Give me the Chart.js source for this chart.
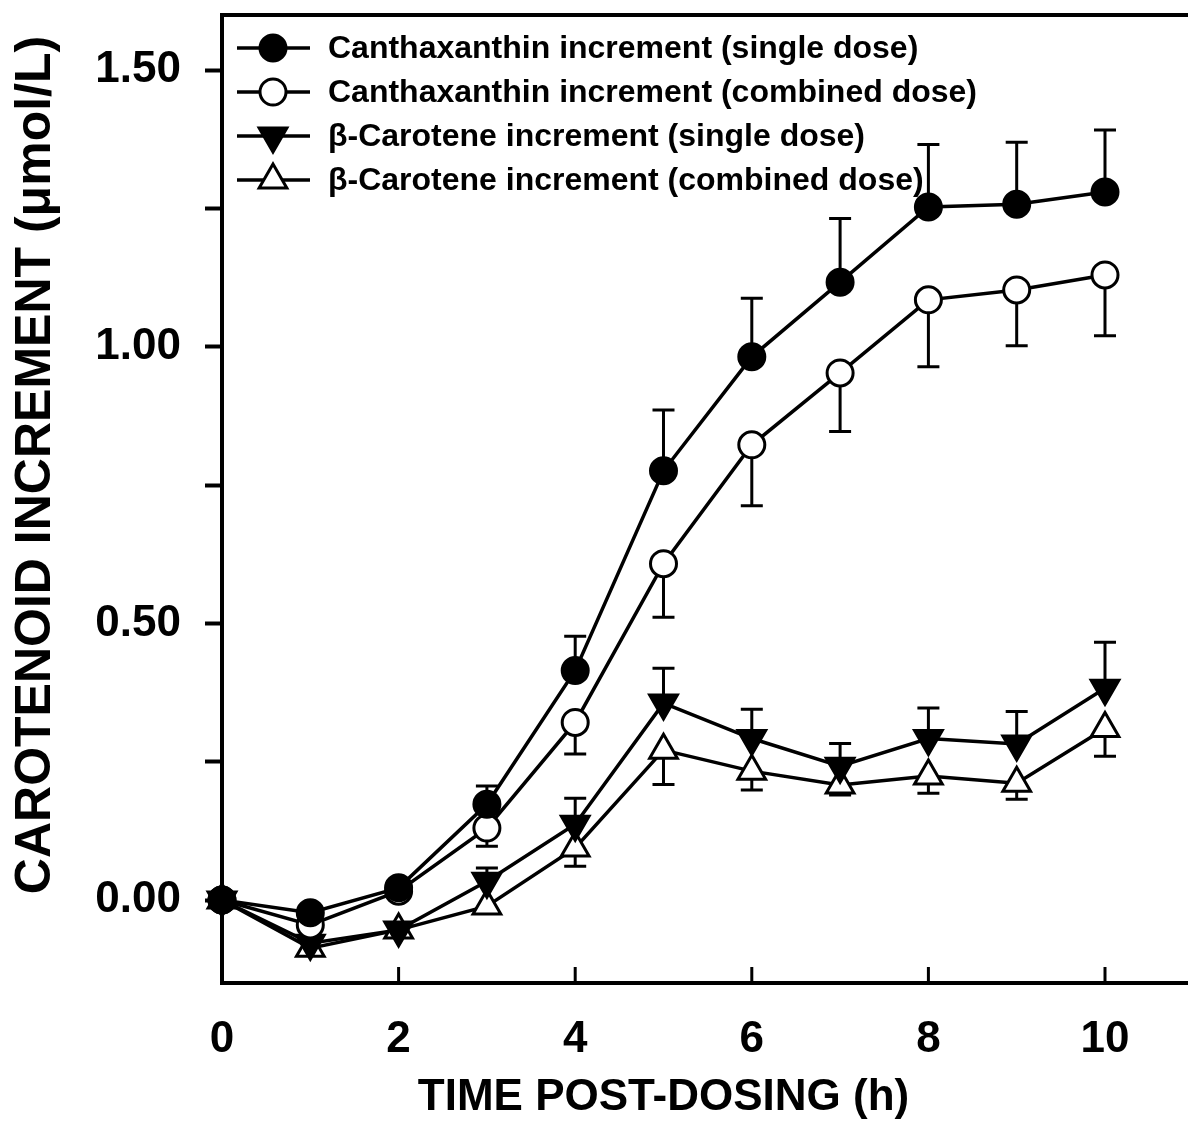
<!DOCTYPE html>
<html>
<head>
<meta charset="utf-8">
<script src="https://cdn.jsdelivr.net/npm/chart.js@4.4.1/dist/chart.umd.min.js"></script>
<style>
  html, body { margin: 0; padding: 0; background: #fff; }
  #wrap { width: 1188px; height: 1144px; }
</style>
</head>
<body>
<div id="wrap"><canvas id="chart" width="1188" height="1144"></canvas></div>
<script>
// time after dosing (h)
var hours = [0, 1, 2, 3, 4, 5, 6, 7, 8, 9, 10];

// canthaxanthin, single dose (filled circles), SE drawn upward
var canthaSingle    = [0, -0.023, 0.022, 0.173, 0.415, 0.776, 0.982, 1.117, 1.253, 1.258, 1.280];
var canthaSingleErr = [0, 0.010, 0.010, 0.033, 0.062, 0.110, 0.106, 0.115, 0.113, 0.112, 0.112];

// canthaxanthin, combined dose (open circles), SE drawn downward
var canthaComb      = [0, -0.045, 0.016, 0.130, 0.321, 0.608, 0.823, 0.953, 1.085, 1.103, 1.130];
var canthaCombErr   = [0, 0.012, 0.010, 0.033, 0.057, 0.097, 0.110, 0.106, 0.121, 0.101, 0.110];

// beta-carotene, single dose (filled down triangles), SE upward
var betaSingle      = [0, -0.078, -0.054, 0.034, 0.137, 0.356, 0.292, 0.242, 0.292, 0.282, 0.383];
var betaSingleErr   = [0, 0.010, 0.010, 0.024, 0.047, 0.063, 0.053, 0.041, 0.055, 0.059, 0.083];

// beta-carotene, combined dose (open up triangles), SE downward
var betaComb        = [0, -0.087, -0.054, -0.011, 0.094, 0.271, 0.233, 0.208, 0.224, 0.211, 0.310];
var betaCombErr     = [0, 0.010, 0.010, 0.012, 0.033, 0.062, 0.034, 0.018, 0.031, 0.029, 0.050];

var seriesNames = [
  'Canthaxanthin increment (single dose)',
  'Canthaxanthin increment (combined dose)',
  '\u03b2-Carotene increment (single dose)',
  '\u03b2-Carotene increment (combined dose)'
];

var xTickValues = [0, 2, 4, 6, 8, 10];
var yTickValues = [0, 0.25, 0.5, 0.75, 1, 1.25, 1.5];
var xTitle = 'TIME POST-DOSING (h)';
var yTitle = 'CAROTENOID INCREMENT (\u03bcmol/L)';

var FONT = '"Liberation Sans", Arial, Helvetica, sans-serif';

function toPoints(vals) {
  return hours.map(function (h, i) { return { x: h, y: vals[i] }; });
}

function series(label, vals, errs, dir, style, rot, fill, radius) {
  return {
    label: label,
    data: toPoints(vals),
    errors: errs,
    errDir: dir,
    borderColor: '#000',
    borderWidth: 3.5,
    pointStyle: style,
    rotation: rot,
    pointRadius: radius,
    pointHoverRadius: radius,
    pointBackgroundColor: fill,
    pointBorderColor: '#000',
    pointBorderWidth: 3,
    tension: 0,
    clip: false
  };
}

// vertical error bars, one side only, drawn under the markers
var errorBars = {
  id: 'errorBars',
  beforeDatasetsDraw: function (chart) {
    var ctx = chart.ctx, xs = chart.scales.x, ys = chart.scales.y;
    ctx.save();
    ctx.strokeStyle = '#000';
    ctx.lineWidth = 3;
    chart.data.datasets.forEach(function (ds) {
      ds.data.forEach(function (p, i) {
        var e = ds.errors[i];
        if (!e) return;
        var px = xs.getPixelForValue(p.x);
        var y0 = ys.getPixelForValue(p.y);
        var y1 = ys.getPixelForValue(p.y + ds.errDir * e);
        ctx.beginPath();
        ctx.moveTo(px, y0); ctx.lineTo(px, y1);
        ctx.moveTo(px - 11, y1); ctx.lineTo(px + 11, y1);
        ctx.stroke();
      });
    });
    ctx.restore();
  }
};

// frame top, inward x ticks, axis titles, legend inside the plot
var decorations = {
  id: 'decorations',
  afterDraw: function (chart) {
    var ctx = chart.ctx, a = chart.chartArea, xs = chart.scales.x;
    ctx.save();
    ctx.strokeStyle = '#000';
    ctx.fillStyle = '#000';

    ctx.lineWidth = 4;
    ctx.beginPath();
    ctx.moveTo(a.left - 2, a.top); ctx.lineTo(a.right, a.top);
    ctx.stroke();

    ctx.lineWidth = 3;
    xTickValues.forEach(function (v) {
      if (v === 0) return;
      var px = xs.getPixelForValue(v);
      ctx.beginPath();
      ctx.moveTo(px, a.bottom); ctx.lineTo(px, a.bottom - 16);
      ctx.stroke();
    });

    ctx.font = 'bold 44px ' + FONT;
    ctx.textAlign = 'center';
    ctx.textBaseline = 'middle';
    ctx.fillText(xTitle, xs.getPixelForValue(5), 1098);

    ctx.save();
    ctx.translate(36, 465);
    ctx.rotate(-Math.PI / 2);
    ctx.font = 'bold 50px ' + FONT;
    ctx.fillText(yTitle, 0, 0);
    ctx.restore();

    ctx.font = 'bold 32px ' + FONT;
    ctx.textAlign = 'left';
    chart.data.datasets.forEach(function (ds, i) {
      var ly = a.top + 33 + i * 44;
      ctx.lineWidth = 3.5;
      ctx.strokeStyle = '#000';
      ctx.beginPath();
      ctx.moveTo(a.left + 15, ly); ctx.lineTo(a.left + 88, ly);
      ctx.stroke();
      ctx.fillStyle = ds.pointBackgroundColor;
      ctx.lineWidth = 3;
      Chart.helpers.drawPoint(ctx, {
        pointStyle: ds.pointStyle,
        radius: ds.pointRadius,
        rotation: ds.rotation,
        borderWidth: 3
      }, a.left + 51, ly);
      ctx.fillStyle = '#000';
      ctx.fillText(ds.label, a.left + 106, ly + 1);
    });
    ctx.restore();
  }
};

new Chart(document.getElementById('chart'), {
  type: 'line',
  data: {
    datasets: [
      series(seriesNames[0], canthaSingle, canthaSingleErr, 1, 'circle', 0, '#000', 13),
      series(seriesNames[1], canthaComb, canthaCombErr, -1, 'circle', 0, '#fff', 13),
      series(seriesNames[2], betaSingle, betaSingleErr, 1, 'triangle', 180, '#000', 16),
      series(seriesNames[3], betaComb, betaCombErr, -1, 'triangle', 0, '#fff', 16)
    ]
  },
  options: {
    responsive: false,
    animation: false,
    devicePixelRatio: 1,
    layout: { autoPadding: false, padding: { top: 15, right: 0, left: 0, bottom: 0 } },
    plugins: { legend: { display: false }, tooltip: { enabled: false } },
    scales: {
      x: {
        type: 'linear',
        min: 0,
        max: 10.94,
        border: { display: true, width: 4, color: '#000' },
        grid: { drawOnChartArea: false, drawTicks: false, tickLength: 0 },
        afterBuildTicks: function (s) { s.ticks = xTickValues.map(function (v) { return { value: v }; }); },
        afterFit: function (s) { s.height = 161; s.paddingLeft = 0; s.paddingRight = 0; },
        ticks: {
          color: '#000',
          padding: 30,
          autoSkip: false,
          maxRotation: 0,
          font: { family: FONT, size: 44, weight: 'bold' },
          callback: function (v) { return String(v); }
        }
      },
      y: {
        type: 'linear',
        min: -0.15,
        max: 1.6,
        border: { display: true, width: 4, color: '#000' },
        grid: { drawOnChartArea: false, tickLength: 17, tickWidth: 4, tickColor: '#000' },
        afterBuildTicks: function (s) { s.ticks = yTickValues.map(function (v) { return { value: v }; }); },
        afterFit: function (s) { s.width = 222; s.paddingTop = 0; s.paddingBottom = 0; },
        ticks: {
          color: '#000',
          padding: 24,
          font: { family: FONT, size: 44, weight: 'bold' },
          callback: function (v) { return Math.round(v * 100) % 50 === 0 ? v.toFixed(2) : ''; }
        }
      }
    }
  },
  plugins: [errorBars, decorations]
});
</script>
</body>
</html>
